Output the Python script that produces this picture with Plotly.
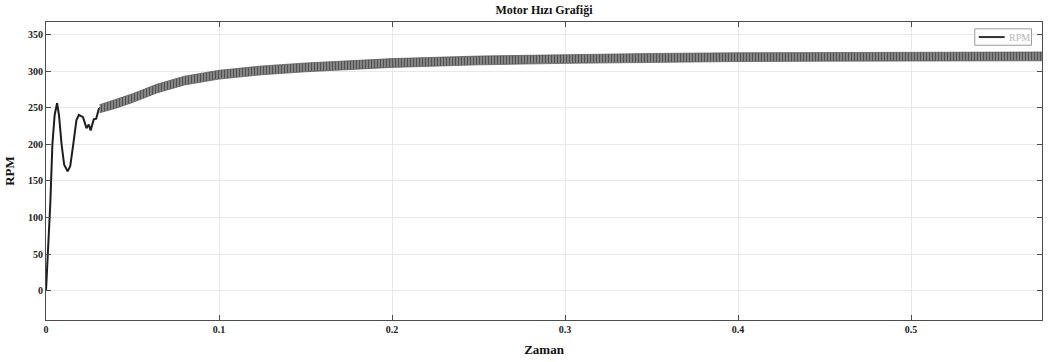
import plotly.graph_objects as go

# Early transient of the motor speed (time in s, speed in RPM)
t_transient = [0, 0.0012, 0.0025, 0.0037, 0.005, 0.0064, 0.0075, 0.009, 0.0105,
               0.0125, 0.014, 0.0156, 0.0176, 0.019, 0.0214, 0.0234, 0.0247,
               0.0258, 0.0276, 0.029, 0.0305, 0.032]
rpm_transient = [0, 50, 120, 200, 240, 256, 240, 200, 172,
                 163, 170, 197, 233, 240, 237, 222, 227,
                 219, 234, 235, 248, 251]

# Ripple region: upper and lower envelope of the oscillating speed
t_env = [0.031, 0.04, 0.05, 0.064, 0.08, 0.1, 0.125, 0.15, 0.2, 0.25, 0.3,
         0.35, 0.4, 0.45, 0.5, 0.5757]
rpm_upper = [254, 261, 269, 282, 293, 301, 307, 311, 317, 320.5, 322.5,
             324, 325, 325.5, 325.5, 326]
rpm_lower = [243, 249, 257, 270, 281, 289, 295, 299, 305, 308.5, 310.5,
             312, 313, 313.5, 313.5, 314]

x_ticks = [0, 0.1, 0.2, 0.3, 0.4, 0.5]
x_tick_text = ["0", "0.1", "0.2", "0.3", "0.4", "0.5"]
y_ticks = [0, 50, 100, 150, 200, 250, 300, 350]
legend_label = "RPM"

SERIF = "Liberation Serif, Times New Roman, serif"
LINE = "#1e1e1e"

fig = go.Figure()
fig.add_trace(go.Scatter(x=t_transient, y=rpm_transient, mode="lines",
                         line=dict(color=LINE, width=2), name=legend_label,
                         showlegend=False))
fig.add_trace(go.Scatter(x=t_env, y=rpm_lower, mode="lines",
                         line=dict(color="#555", width=0.7), showlegend=False,
                         hoverinfo="skip"))
fig.add_trace(go.Scatter(x=t_env, y=rpm_upper, mode="lines",
                         line=dict(color="#555", width=0.7), fill="tonexty",
                         fillpattern=dict(shape="|", size=3, solidity=0.55,
                                          fgcolor="#050505",
                                          bgcolor="#9c9c9c"),
                         showlegend=False, hoverinfo="skip"))

axis_common = dict(showline=True, linecolor="#4d4d4d", linewidth=1,
                   mirror="ticks", ticks="inside", ticklen=5,
                   tickcolor="#4d4d4d", showgrid=True, gridcolor="#e8e8e8",
                   gridwidth=1, zeroline=False, automargin=False,
                   tickfont=dict(family=SERIF, size=10, color="#222",
                                 weight="bold"))

fig.update_layout(
    width=1048, height=362,
    margin=dict(l=46, r=6, t=22, b=42),
    paper_bgcolor="white", plot_bgcolor="white",
    title=dict(text="Motor Hızı Grafiği", x=0.5, xref="paper",
               y=1 - 6 / 362, yanchor="top",
               font=dict(family=SERIF, size=12, color="#111", weight="bold")),
    xaxis=dict(range=[0, 0.5757], tickvals=x_ticks, ticktext=x_tick_text,
               title=dict(text="Zaman", standoff=10,
                          font=dict(family=SERIF, size=13, color="#111",
                                    weight="bold")),
               **axis_common),
    yaxis=dict(range=[-40, 367], tickvals=y_ticks,
               title=dict(text="RPM", standoff=10,
                          font=dict(family=SERIF, size=13, color="#111",
                                    weight="bold")),
               **axis_common),
    showlegend=False,
)

# Legend box drawn manually (MATLAB style compact legend)
fig.add_shape(type="rect", xref="paper", yref="paper",
              x0=0.9325, x1=0.9895, y0=0.922, y1=0.977,
              line=dict(color="#9a9a9a", width=1), fillcolor="white", layer="above")
fig.add_shape(type="line", xref="paper", yref="paper",
              x0=0.9365, x1=0.9625, y0=0.9495, y1=0.9495,
              line=dict(color="#333", width=2), layer="above")
fig.add_annotation(text=legend_label, xref="paper", yref="paper",
                   x=0.9645, y=0.9495, xanchor="left", yanchor="middle",
                   showarrow=False,
                   font=dict(family=SERIF, size=10, color="#b5b5b5"))

fig.write_html("out.html",
               config={"displayModeBar": False},
               post_script="document.body.style.margin='0';"
                           "document.body.style.overflow='hidden';")
